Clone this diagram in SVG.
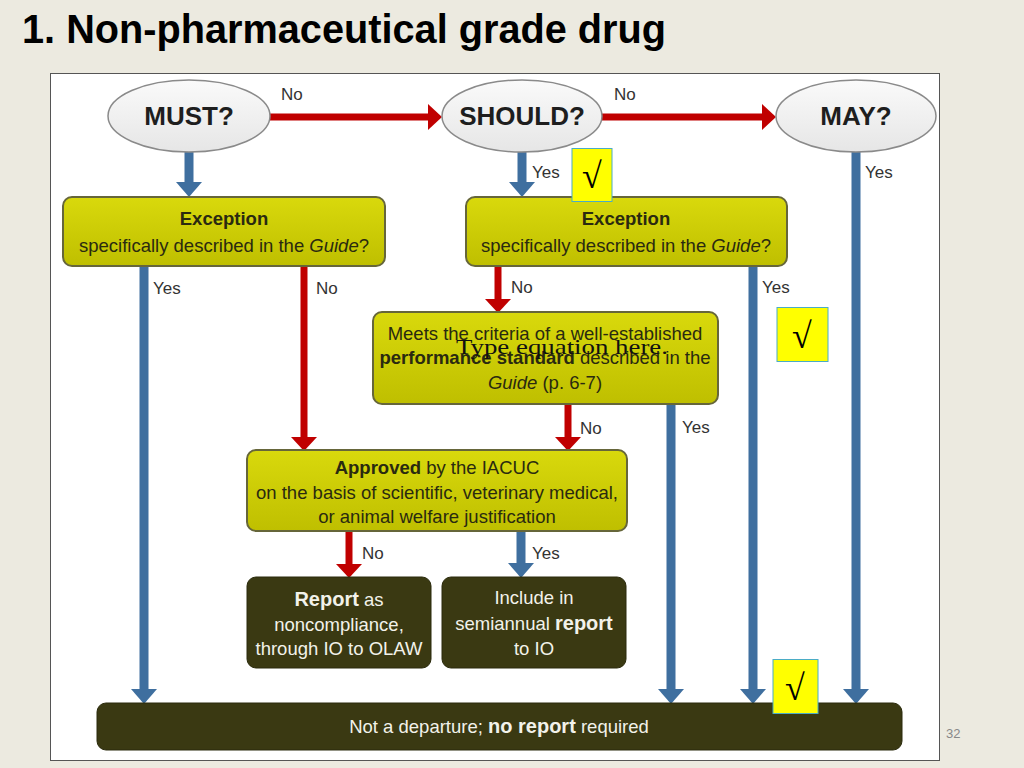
<svg xmlns="http://www.w3.org/2000/svg" width="1024" height="768" viewBox="0 0 1024 768">
<defs>
<linearGradient id="gY" x1="0" y1="0" x2="0" y2="1">
<stop offset="0" stop-color="#D9D90C"/><stop offset="1" stop-color="#BFBF00"/>
</linearGradient>
<linearGradient id="gE" x1="0" y1="0" x2="0" y2="1">
<stop offset="0" stop-color="#FAFAFA"/><stop offset="1" stop-color="#E6E6E6"/>
</linearGradient>
<marker id="aB" markerUnits="userSpaceOnUse" markerWidth="15" markerHeight="26" refX="0" refY="13" orient="auto">
<path d="M0,0 L15,13 L0,26 z" fill="#3F6F9F"/>
</marker>
<marker id="aR" markerUnits="userSpaceOnUse" markerWidth="14" markerHeight="26" refX="0" refY="13" orient="auto">
<path d="M0,0 L14,13 L0,26 z" fill="#C00000"/>
</marker>
<style>
.ell{fill:url(#gE);stroke:#8A8A8A;stroke-width:1.5}
.ybox{fill:url(#gY);stroke:#66663A;stroke-width:2}
.dbox{fill:#3A3912;stroke:#2A2A0C;stroke-width:1}
.blue{stroke:#3F6F9F;stroke-width:9;fill:none;marker-end:url(#aB)}
.red{stroke:#C00000;stroke-width:7;fill:none;marker-end:url(#aR)}
.et{font-family:"Liberation Sans",Arial,sans-serif;font-weight:bold;font-size:26px;fill:#1E1E1E;text-anchor:middle}
.bt{font-family:"Liberation Sans",Arial,sans-serif;font-size:18.5px;fill:#2A2A10;text-anchor:middle}
.wt{font-family:"Liberation Sans",Arial,sans-serif;font-size:18.5px;fill:#F2F2EA;text-anchor:middle}
.lb{font-family:"Liberation Sans",Arial,sans-serif;font-size:17px;fill:#333}
.b{font-weight:bold}
.i{font-style:italic}
.chk{fill:#FFFF00;stroke:#4BACC6;stroke-width:1}
.ct{font-family:"Liberation Serif","Times New Roman",serif;font-size:36px;fill:#000;text-anchor:middle}
</style>
</defs>
<rect x="0" y="0" width="1024" height="768" fill="#ECEAE0"/>
<text x="22" y="43" font-family="Liberation Sans,Arial,sans-serif" font-weight="bold" font-size="40" fill="#000" textLength="644" lengthAdjust="spacingAndGlyphs">1. Non-pharmaceutical grade drug</text>
<rect x="50.5" y="73.5" width="889" height="687" fill="#FFFFFF" stroke="#555" stroke-width="1"/>

<g id="connectors">
<line class="red" x1="270" y1="117" x2="428" y2="117"/>
<line class="red" x1="602" y1="117" x2="762" y2="117"/>
<line class="blue" x1="189" y1="152" x2="189" y2="182"/>
<line class="blue" x1="522" y1="152" x2="522" y2="182"/>
<line class="blue" x1="856" y1="152" x2="856" y2="689"/>
<line class="blue" x1="144" y1="266" x2="144" y2="689"/>
<line class="red" x1="304" y1="266" x2="304" y2="437"/>
<line class="red" x1="498" y1="266" x2="498" y2="299"/>
<line class="blue" x1="753" y1="266" x2="753" y2="689"/>
<line class="red" x1="568" y1="404" x2="568" y2="437"/>
<line class="blue" x1="671" y1="404" x2="671" y2="689"/>
<line class="red" x1="349" y1="531" x2="349" y2="564"/>
<line class="blue" x1="521" y1="531" x2="521" y2="563"/>
<text class="lb" x="281" y="100">No</text>
<text class="lb" x="614" y="100">No</text>
<text class="lb" x="532" y="178">Yes</text>
<text class="lb" x="865" y="178">Yes</text>
<text class="lb" x="153" y="294">Yes</text>
<text class="lb" x="316" y="294">No</text>
<text class="lb" x="511" y="293">No</text>
<text class="lb" x="762" y="293">Yes</text>
<text class="lb" x="580" y="434">No</text>
<text class="lb" x="682" y="433">Yes</text>
<text class="lb" x="362" y="559">No</text>
<text class="lb" x="532" y="559">Yes</text>
</g>

<g id="must">
<ellipse class="ell" cx="189" cy="116" rx="81" ry="36"/>
<text class="et" x="189" y="125">MUST?</text>
</g>
<g id="should">
<ellipse class="ell" cx="522" cy="116" rx="80" ry="36"/>
<text class="et" x="522" y="125">SHOULD?</text>
</g>
<g id="may">
<ellipse class="ell" cx="856" cy="116" rx="80" ry="36"/>
<text class="et" x="856" y="125">MAY?</text>
</g>

<g id="exception-left">
<rect class="ybox" x="63" y="197" width="322" height="69" rx="9"/>
<text class="bt b" x="224" y="225" font-size="21">Exception</text>
<text class="bt" x="224" y="252">specifically described in the <tspan class="i">Guide</tspan>?</text>
</g>
<g id="exception-right">
<rect class="ybox" x="466" y="197" width="321" height="69" rx="9"/>
<text class="bt b" x="626" y="225" font-size="21">Exception</text>
<text class="bt" x="626" y="252">specifically described in the <tspan class="i">Guide</tspan>?</text>
</g>

<g id="meets">
<rect class="ybox" x="373" y="312" width="345" height="92" rx="9"/>
<text class="bt" x="545" y="340">Meets the criteria of a well-established</text>
<text class="bt" x="545" y="364"><tspan class="b">performance standard</tspan> described in the</text>
<text class="bt" x="545" y="389"><tspan class="i">Guide</tspan> (p. 6-7)</text>
</g>

<g id="approved">
<rect class="ybox" x="247" y="450" width="380" height="81" rx="9"/>
<text class="bt" x="437" y="474"><tspan class="b">Approved</tspan> by the IACUC</text>
<text class="bt" x="437" y="499">on the basis of scientific, veterinary medical,</text>
<text class="bt" x="437" y="523">or animal welfare justification</text>
</g>

<g id="report">
<rect class="dbox" x="247" y="577" width="184" height="91" rx="9"/>
<text class="wt" x="339" y="606"><tspan class="b" font-size="20">Report</tspan> as</text>
<text class="wt" x="339" y="631">noncompliance,</text>
<text class="wt" x="339" y="655">through IO to OLAW</text>
</g>

<g id="include">
<rect class="dbox" x="442" y="577" width="184" height="91" rx="9"/>
<text class="wt" x="534" y="604">Include in</text>
<text class="wt" x="534" y="630">semiannual <tspan class="b" font-size="20">report</tspan></text>
<text class="wt" x="534" y="655">to IO</text>
</g>

<g id="no-departure">
<rect class="dbox" x="97" y="703" width="805" height="47" rx="9"/>
<text class="wt" x="499" y="733">Not a departure; <tspan class="b" font-size="20">no report</tspan> required</text>
</g>

<g id="equation">
<text x="562" y="354" font-family="Liberation Serif,Times New Roman,serif" font-size="22" fill="#111" text-anchor="middle" textLength="212" lengthAdjust="spacingAndGlyphs">Type equation here.</text>
</g>

<g id="check1">
<rect class="chk" x="572" y="148.5" width="40" height="53"/>
<text class="ct" x="592" y="188">√</text>
</g>
<g id="check2">
<rect class="chk" x="777" y="307.5" width="51" height="54"/>
<text class="ct" x="802" y="348">√</text>
</g>
<g id="check3">
<rect class="chk" x="773" y="659.5" width="45" height="54"/>
<text class="ct" x="795" y="700">√</text>
</g>

<text x="946" y="738" font-family="Liberation Sans,Arial,sans-serif" font-size="13" fill="#888">32</text>
</svg>
